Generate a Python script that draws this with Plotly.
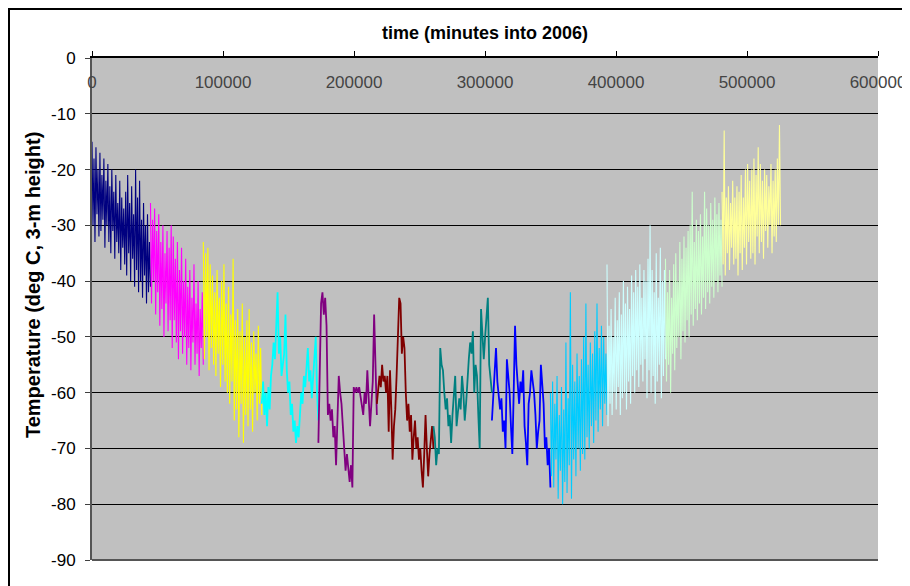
import numpy as np
import plotly.graph_objects as go

# month boundaries (minutes into 2006)
month_edges = [0, 44640, 84960, 129600, 172800, 217440, 260640, 305280,
               349920, 393120, 437760, 480960, 525600]
month_names = ["Jan", "Feb", "Mar", "Apr", "May", "Jun", "Jul", "Aug",
               "Sep", "Oct", "Nov", "Dec"]
month_colors = ["#000080", "#FF00FF", "#FFFF00", "#00FFFF", "#800080", "#800000",
                "#008080", "#0000FF", "#00CCFF", "#CCFFFF", "#CCFFCC", "#FFFF99"]

jan = [-15, -30, -18, -33, -16, -28, -20, -32,
       -17, -31, -21, -29, -18, -34, -22, -30, -19, -33,
       -23, -35, -20, -31, -24, -36, -21, -33, -26, -35,
       -22, -38, -25, -34, -27, -37, -24, -39, -21, -35,
       -26, -40, -23, -36, -28, -41, -20, -38, -25, -42,
       -22, -40, -29, -43, -26, -39, -30, -44, -28, -42, -33, -41]
feb = [-26, -44, -29, -40, -27, -46, -31, -42, -28, -48,
       -33, -45, -30, -50, -35, -44, -31, -49, -34, -47,
       -30, -52, -32, -47, -36, -51, -33, -54, -38, -49,
       -34, -53, -40, -50, -36, -55, -41, -52, -38, -56,
       -43, -51, -37, -55, -44, -53, -40, -57, -45, -52, -42, -55]
mar = [-33, -54, -35, -50, -34, -56, -37, -52, -39, -55,
       -42, -57, -38, -53, -43, -59, -40, -55, -37, -58,
       -44, -60, -41, -62, -46, -58, -36, -65, -47, -63,
       -45, -68, -49, -62, -44, -69, -50, -64, -47, -66,
       -45, -63, -51, -67, -49, -60, -53, -65, -48, -62, -52, -64]
apr = [-62, -58, -64, -60, -66, -59, -63, -57, -55, -51, -54, -48, -42, -53,
       -50, -57, -55, -53, -46, -56, -60, -58, -64, -62, -67, -65, -69, -66,
       -68, -63, -60, -62, -57, -59, -55, -52, -58, -56, -61, -57, -55, -50,
       -60, -65]
may = [-69, -55, -44, -42, -46, -43, -48, -64, -62, -65, -63, -68, -66, -73,
       -65, -57, -60, -62, -66, -70, -74, -71, -74, -76, -73, -77, -59, -60,
       -59, -60, -59, -61, -63, -64, -60, -62, -56, -60, -66, -62, -58, -46,
       -55, -64]
jun = [-62, -60, -57, -59, -55, -58, -57, -60, -57, -67, -56, -63, -72, -66,
       -63, -57, -50, -43, -44, -53, -50, -52, -60, -65, -62, -67, -64, -72,
       -68, -65, -70, -68, -72, -70, -74, -77, -71, -64, -70, -75, -71, -68,
       -66, -70]
jul = [-66, -68, -73, -70, -71, -52, -55, -56, -60, -63, -61, -66, -64, -69,
       -64, -60, -57, -66, -63, -61, -63, -57, -60, -65, -62, -57, -54, -51,
       -53, -49, -60, -55, -57, -64, -70, -45, -50, -54, -50, -47, -43, -55,
       -57, -60]
aug = [-65, -60, -57, -52, -58, -60, -63, -61, -67, -65, -70, -54, -57, -60,
       -66, -71, -60, -48, -55, -59, -62, -58, -60, -56, -66, -69, -73, -62,
       -60, -56, -58, -60, -64, -70, -67, -65, -55, -58, -62, -70, -68, -73,
       -70, -77]
sep = [-60, -75, -58, -77, -62, -72, -57, -79, -64, -74,
       -59, -80, -63, -76, -51, -78, -61, -73, -42, -79,
       -55, -72, -58, -75, -53, -70, -57, -74, -54, -71,
       -50, -72, -44, -68, -55, -70, -51, -66, -53, -69,
       -49, -65, -44, -67, -52, -63, -48, -66, -50, -62, -53, -64]
oct_ = [-37, -66, -48, -62, -45, -64, -50, -60, -43, -63,
        -47, -59, -42, -64, -46, -61, -40, -60, -44, -63,
        -41, -58, -45, -62, -39, -57, -42, -60, -38, -56,
        -41, -59, -37, -55, -43, -58, -38, -54, -40, -61,
        -36, -56, -30, -60, -38, -57, -42, -62, -35, -58,
        -43, -55, -34, -61, -40, -57, -38, -54]
nov = [-36, -58, -42, -55, -38, -60, -43, -53, -37, -56,
       -35, -52, -40, -50, -33, -54, -36, -49, -32, -51,
       -34, -47, -31, -50, -30, -46, -24, -48, -33, -45,
       -29, -47, -31, -44, -28, -46, -32, -43, -24, -45,
       -27, -42, -30, -44, -26, -41, -29, -43, -25, -40,
       -28, -42, -26, -39, -29, -41]
dec = [-24, -37, -13, -39, -25, -35, -23, -38, -26, -34,
       -22, -37, -25, -36, -23, -39, -24, -35, -21, -38,
       -25, -34, -20, -37, -19, -33, -22, -36, -20, -35,
       -18, -37, -21, -32, -16, -35, -19, -33, -22, -36,
       -20, -31, -21, -34, -23, -30, -19, -35, -22, -32,
       -20, -33, -18, -30, -12, -30]

monthly_values = [jan, feb, mar, apr, may, jun, jul, aug, sep, oct_, nov, dec]
# line widths: thin for the rapidly oscillating months, thicker for the winter months
month_widths = [1.1, 1.1, 1.1, 1.8, 1.8, 1.8, 1.8, 1.8, 1.1, 1.1, 1.1, 1.1]

x_ticks = [0, 100000, 200000, 300000, 400000, 500000, 600000]
y_ticks = [0, -10, -20, -30, -40, -50, -60, -70, -80, -90]

FONT = "Arial, Liberation Sans, sans-serif"

fig = go.Figure()
for i, vals in enumerate(monthly_values):
    t = np.linspace(month_edges[i], month_edges[i + 1], len(vals))
    fig.add_trace(go.Scatter(x=t, y=vals, mode="lines", name=month_names[i],
                             line=dict(color=month_colors[i], width=month_widths[i]),
                             showlegend=False))

fig.update_layout(
    width=910, height=586,
    margin=dict(l=84, r=38, t=50, b=34),
    paper_bgcolor="white", plot_bgcolor="#C0C0C0",
    font=dict(family=FONT, size=17, color="black"),
    xaxis=dict(side="top", range=[0, 600000], tickvals=x_ticks,
               ticktext=[str(v) for v in x_ticks],
               ticks="outside", ticklen=5, tickcolor="black",
               ticklabelposition="inside", ticklabeloverflow="allow",
               ticklabelstandoff=19,
               showgrid=False, zeroline=False,
               showline=True, linecolor="black", linewidth=1.5),
    yaxis=dict(range=[-90, 0], tickvals=y_ticks,
               ticktext=[str(v) for v in y_ticks],
               ticks="outside", ticklen=5, tickcolor="#404040",
               ticklabelstandoff=6,
               showgrid=True, gridcolor="black", gridwidth=1, zeroline=False,
               showline=True, linecolor="#555555", linewidth=2),
    annotations=[
        dict(text="<b>time (minutes into 2006)</b>", xref="paper", yref="paper",
             x=0.5, y=1.0498, showarrow=False, font=dict(size=18),
             xanchor="center", yanchor="middle"),
        dict(text="<b>Temperature (deg C, 3-m height)</b>", xref="paper", yref="paper",
             x=-0.0749, y=0.548, showarrow=False, font=dict(size=20),
             textangle=-90, xanchor="center", yanchor="middle"),
    ],
    shapes=[
        dict(type="line", xref="paper", yref="paper", x0=0, x1=1, y0=0, y1=0,
             line=dict(color="#555555", width=2)),
        dict(type="rect", xref="paper", yref="paper", x0=-0.1056, x1=1.2,
             y0=-0.2, y1=1.0976, line=dict(color="black", width=2)),
    ],
)

fig.write_html("out.html")
